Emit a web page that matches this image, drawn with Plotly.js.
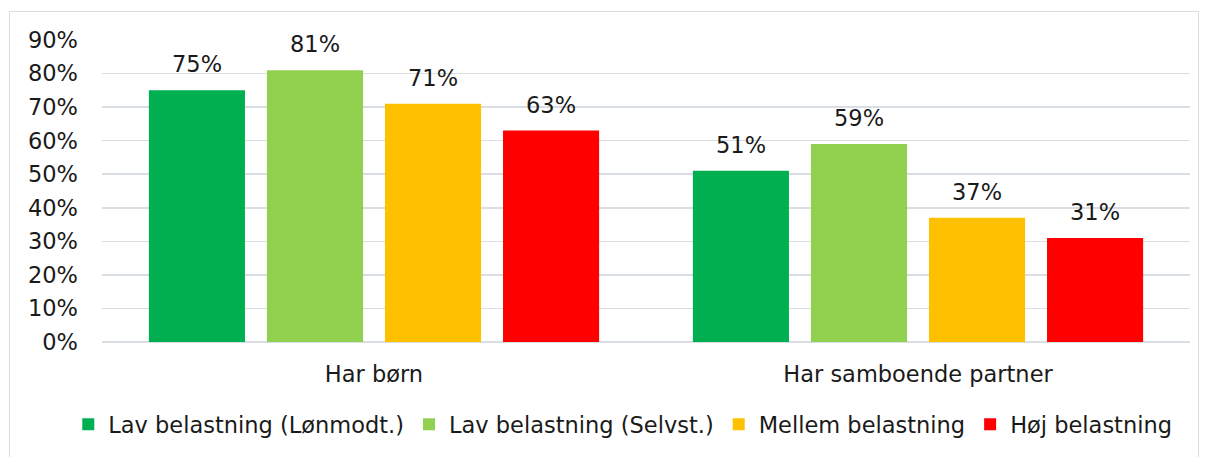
<!DOCTYPE html>
<html><head><meta charset="utf-8">
<script src="https://cdn.plot.ly/plotly-3.0.1.min.js"></script>
<style>
html,body{margin:0;padding:0;background:#fff;}
#wrap{position:relative;width:1208px;height:457px;}
#chart{width:1208px;height:457px;}
#frame{position:absolute;left:9px;top:11px;width:1188px;height:460px;border:1.5px solid #d9dde4;pointer-events:none;}
</style></head>
<body>
<div id="wrap"><div id="chart"></div><div id="frame"></div></div>
<script>
const categories = ["Har børn", "Har samboende partner"];
const seriesNames = ["Lav belastning (Lønmodt.)", "Lav belastning (Selvst.)", "Mellem belastning", "Høj belastning"];
const lavLon = [0.75, 0.51];
const lavSelv = [0.81, 0.59];
const mellem = [0.71, 0.37];
const hoj = [0.63, 0.31];
const colors = ["#00B050", "#92D050", "#FFC000", "#FF0000"];
const yTicks = [0,0.1,0.2,0.3,0.4,0.5,0.6,0.7,0.8,0.9];
const yTickText = ["0%","10%","20%","30%","40%","50%","60%","70%","80%","90%"];

const fontFam = "DejaVu Sans, sans-serif";
const fs = 22.5;
const bargap = 0.132;
const all = [lavLon, lavSelv, mellem, hoj];
const traces = all.map((vals, i) => ({
  type: "bar",
  name: seriesNames[i],
  x: categories,
  y: vals,
  marker: {color: colors[i]},
  hoverinfo: "none"
}));

// value labels placed via the category axis (group offsets from bargap)
const n = all.length;
const slot = (1 - bargap) / n;
const annotations = [];
all.forEach((vals, i) => {
  vals.forEach((v, c) => {
    annotations.push({
      xref: "x", yref: "y",
      x: c + (i - (n - 1) / 2) * slot,
      y: v,
      text: Math.round(v * 100) + "%",
      showarrow: false,
      yanchor: "middle",
      yshift: 26,
      font: {family: fontFam, size: fs, color: "#1a1a1a"}
    });
  });
});

const layout = {
  width: 1208, height: 457,
  margin: {l: 102, r: 18, t: 40, b: 115, autoexpand: false},
  paper_bgcolor: "#fff", plot_bgcolor: "#fff",
  barmode: "group",
  bargap: bargap,
  bargroupgap: 0.186,
  font: {family: fontFam, size: fs, color: "#1a1a1a"},
  xaxis: {showgrid: false, showline: false, zeroline: false, ticks: "", tickfont: {size: fs}, ticklabelstandoff: 16},
  yaxis: {range: [0, 0.9], tickvals: yTicks, ticktext: yTickText, showgrid: true, gridcolor: "#d9dde4", gridwidth: 1.5,
          zeroline: true, zerolinecolor: "#d9dde4", zerolinewidth: 1.5, ticks: "", ticklabelstandoff: 23, tickfont: {size: fs}},
  annotations: annotations,
  showlegend: true,
  legend: {orientation: "h", x: -0.031, xanchor: "left", y: -0.202, yanchor: "top", font: {size: fs}, tracegroupgap: 0}
};
Plotly.newPlot("chart", traces, layout, {staticPlot: true, displayModeBar: false});
</script>
</body></html>
